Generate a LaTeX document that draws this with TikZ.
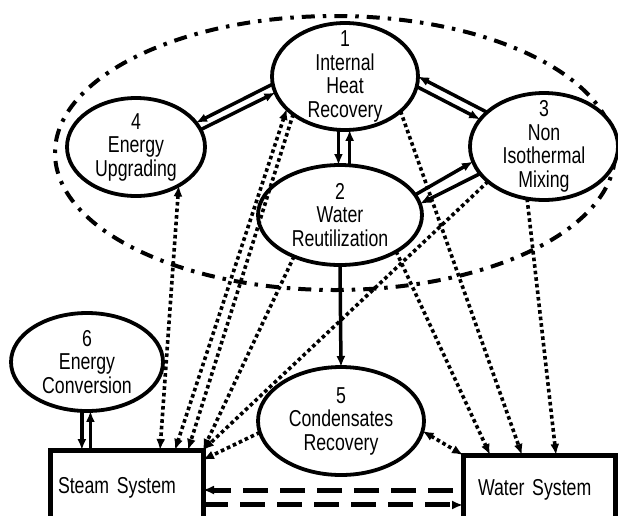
\documentclass[tikz,border=0pt]{standalone}
\usepackage{fontspec}
\setmainfont{Liberation Sans}[FakeStretch=0.77]
\usetikzlibrary{arrows.meta,calc,shapes.geometric}
\begin{document}
\begin{tikzpicture}[x=1pt,y=-1pt,
  proc/.style={ellipse, draw, line width=3.8pt, fill=white, inner sep=0pt, outer sep=0pt},
  lbl/.style={align=center, inner sep=0pt, font=\fontsize{23}{23.5}\selectfont},
  sysbox/.style={rectangle, draw, line width=5pt, fill=white, inner sep=0pt, outer sep=0pt, align=left, font=\fontsize{23}{23.5}\selectfont},
  zonestyle/.style={ellipse, draw, line width=4pt, dash pattern=on 13pt off 8pt on 3.5pt off 8pt, inner sep=0pt, outer sep=0pt},
  tipend/.style={-{Latex[length=11pt,width=9pt]}},
  tipboth/.style={{Latex[length=11pt,width=9pt]}-{Latex[length=11pt,width=9pt]}},
  dbl/.style={line width=3.5pt, tipend},
  dots/.style={line width=3.6pt, dash pattern=on 3.6pt off 3pt},
  dashes/.style={line width=5pt, dash pattern=on 25pt off 12pt}
]
\fill[white] (0,0) rectangle (618,515);
\useasboundingbox (0,0) rectangle (618,515);

% grouping zone
\node[zonestyle, minimum width=560pt, minimum height=274pt] (zone) at (335,153) {};

% process ellipses
\node[proc, minimum width=146pt, minimum height=107pt] (n1) at (345,76.5) {};
\node[proc, minimum width=164pt, minimum height=100pt] (n2) at (340,215) {};
\node[proc, minimum width=148pt, minimum height=107pt] (n3) at (544,146.5) {};
\node[proc, minimum width=138pt, minimum height=98pt] (n4) at (136,147) {};
\node[proc, minimum width=166pt, minimum height=108pt] (n5) at (341,421) {};
\node[proc, minimum width=152pt, minimum height=98pt] (n6) at (87,362) {};

\node[lbl] (t1) at (n1) {1\\Internal\\Heat\\Recovery};
\node[lbl] (t2) at (n2) {2\\Water\\Reutilization};
\node[lbl] (t3) at (n3) {3\\Non\\Isothermal\\Mixing};
\node[lbl] (t4) at (n4) {4\\Energy\\Upgrading};
\node[lbl] (t5) at (n5) {5\\Condensates\\Recovery};
\node[lbl] (t6) at (n6) {6\\Energy\\Conversion};

% systems
\node[sysbox, minimum width=153pt, minimum height=75pt, text width=137pt] (steam) at (126.5,487.5) {Steam System};
\node[sysbox, minimum width=152pt, minimum height=70pt, text width=122pt] (water) at (539,490) {Water System};

% double solid arrows
\draw[dbl] (n1.186) -- (n4.22);
\draw[dbl] (n4.15) -- (n1.193);
\draw[dbl] (n3.149) -- (n1.0);
\draw[dbl] (n1.352) -- (n3.157);
\draw[dbl] (n2.15) -- (n3.192);
\draw[dbl] (n3.203) -- (n2.8);
\draw[dbl] (n1.263) -- (n1.263 |- n2.north);
\draw[dbl] (n2.north -| n1.275) -- (n1.275);
\draw[dbl] (n6.264) -- (n6.264 |- steam.north);
\draw[dbl] (steam.north -| n6.274) -- (n6.274);
\draw[dbl] (n2.south) -- (n5.north);

% dotted connections to the steam system
\draw[dots, tipboth] (n4.318) -- ($(steam.north west)!0.719!(steam.north east)$);
\draw[dots, tipboth] (n1.209) -- ($(steam.north west)!0.817!(steam.north east)$);
\draw[dots, tipend] (n1.216) -- ($(steam.north west)!0.902!(steam.north east)$);
\draw[dots, tipend] (n2.222) -- (steam.north east);
\draw[dots, tipend] (n3.212) -- (steam.north east);
\draw[dots, tipend] (n5.188) -- ($(steam.north east)!0.13!(steam.south east)$);

% dotted connections to the water system
\draw[dots, tipend] (n1.328) -- ($(water.north west)!0.388!(water.north east)$);
\draw[dots, tipend] (n2.327) -- ($(water.north west)!0.178!(water.north east)$);
\draw[dots, tipend] (n3.252) -- ($(water.north west)!0.612!(water.north east)$);
\draw[dots, tipboth] (n5.353) -- (water.north west);

% dashed exchange between systems
\coordinate (lo) at ($(water.north west)!0.714!(water.south west)$);
\draw[dashes, tipend, shorten <=10pt] (water.west) -- (water.west -| steam.east);
\draw[dashes, tipend] (lo -| steam.east) -- (lo);
\end{tikzpicture}
\end{document}
